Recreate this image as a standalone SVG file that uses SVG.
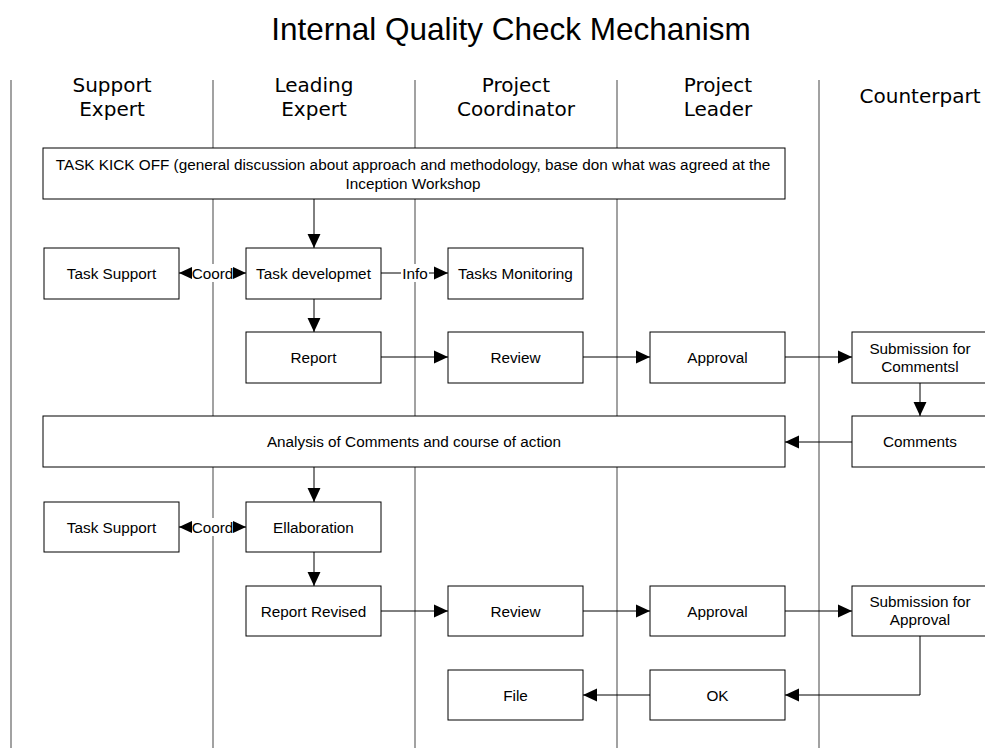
<svg xmlns="http://www.w3.org/2000/svg" width="985" height="748" viewBox="0 0 985 748">
<style>
.lane{stroke:#707070;stroke-width:1.3;fill:none}
.box rect{fill:#fff;stroke:#000;stroke-width:1}
.t{font-family:"Liberation Sans",Arial,sans-serif;font-size:15.3px;fill:#000;text-anchor:middle}
.h{font-family:"DejaVu Sans",sans-serif;font-size:20px;fill:#000;text-anchor:middle}
.c{stroke:#000;stroke-width:1;fill:none}
.bg{fill:#fff}
</style>
<defs>
<marker id="a" markerUnits="userSpaceOnUse" markerWidth="14" markerHeight="14" viewBox="0 0 13 12" refX="13" refY="6" orient="auto">
<path d="M0,0 L13,6 L0,12 Z" fill="#000"/>
</marker>
<marker id="as" markerUnits="userSpaceOnUse" markerWidth="14" markerHeight="14" viewBox="0 0 13 12" refX="0" refY="6" orient="auto">
<path d="M13,0 L0,6 L13,12 Z" fill="#000"/>
</marker>
</defs>
<rect width="985" height="748" fill="#fff"/>
<text x="511" y="40" font-family="Liberation Sans,Arial,sans-serif" font-size="31.5" text-anchor="middle">Internal Quality Check Mechanism</text>
<g id="lanes">
<line class="lane" x1="11" y1="80" x2="11" y2="748"/>
<line class="lane" x1="213" y1="80" x2="213" y2="748"/>
<line class="lane" x1="415" y1="80" x2="415" y2="748"/>
<line class="lane" x1="617" y1="80" x2="617" y2="748"/>
<line class="lane" x1="819" y1="80" x2="819" y2="748"/>
<text class="h" x="112" y="92">Support</text><text class="h" x="112" y="116">Expert</text>
<text class="h" x="314" y="92">Leading</text><text class="h" x="314" y="116">Expert</text>
<text class="h" x="516" y="92">Project</text><text class="h" x="516" y="116">Coordinator</text>
<text class="h" x="718" y="92">Project</text><text class="h" x="718" y="116">Leader</text>
<text class="h" x="920" y="103">Counterpart</text>
</g>
<g id="connectors">
<line class="c" x1="314" y1="199" x2="314" y2="248" marker-end="url(#a)"/>
<line class="c" x1="314" y1="299" x2="314" y2="332" marker-end="url(#a)"/>
<line class="c" x1="179" y1="273" x2="246" y2="273" marker-start="url(#as)" marker-end="url(#a)"/>
<rect class="bg" x="192" y="264" width="41" height="18"/>
<text class="t" x="212.5" y="279">Coord</text>
<line class="c" x1="381" y1="273" x2="448" y2="273" marker-end="url(#a)"/>
<rect class="bg" x="401" y="264" width="28" height="18"/>
<text class="t" x="415" y="279">Info</text>
<line class="c" x1="381" y1="357" x2="448" y2="357" marker-end="url(#a)"/>
<line class="c" x1="583" y1="357" x2="650" y2="357" marker-end="url(#a)"/>
<line class="c" x1="785" y1="357" x2="852" y2="357" marker-end="url(#a)"/>
<line class="c" x1="920" y1="383" x2="920" y2="416" marker-end="url(#a)"/>
<line class="c" x1="852" y1="442" x2="785" y2="442" marker-end="url(#a)"/>
<line class="c" x1="314" y1="467" x2="314" y2="502" marker-end="url(#a)"/>
<line class="c" x1="179" y1="527" x2="246" y2="527" marker-start="url(#as)" marker-end="url(#a)"/>
<rect class="bg" x="192" y="518" width="41" height="18"/>
<text class="t" x="212.5" y="533">Coord</text>
<line class="c" x1="314" y1="552" x2="314" y2="586" marker-end="url(#a)"/>
<line class="c" x1="381" y1="611" x2="448" y2="611" marker-end="url(#a)"/>
<line class="c" x1="583" y1="611" x2="650" y2="611" marker-end="url(#a)"/>
<line class="c" x1="785" y1="611" x2="852" y2="611" marker-end="url(#a)"/>
<polyline class="c" points="920,636 920,695 785,695" marker-end="url(#a)"/>
<line class="c" x1="650" y1="695" x2="583" y2="695" marker-end="url(#a)"/>
</g>
<g id="kickoff" class="box"><rect x="43" y="148" width="742" height="51"/>
<text class="t" x="413" y="170">TASK KICK OFF (general discussion about approach and methodology, base don what was agreed at the</text>
<text class="t" x="413" y="189">Inception Workshop</text></g>
<g id="tasksupport1" class="box"><rect x="44" y="248" width="135" height="51"/><text class="t" x="111.5" y="279">Task Support</text></g>
<g id="taskdev" class="box"><rect x="246" y="248" width="135" height="51"/><text class="t" x="313.5" y="279">Task developmet</text></g>
<g id="monitoring" class="box"><rect x="448" y="248" width="135" height="51"/><text class="t" x="515.5" y="279">Tasks Monitoring</text></g>
<g id="report" class="box"><rect x="246" y="332" width="135" height="51"/><text class="t" x="313.5" y="363">Report</text></g>
<g id="review1" class="box"><rect x="448" y="332" width="135" height="51"/><text class="t" x="515.5" y="363">Review</text></g>
<g id="approval1" class="box"><rect x="650" y="332" width="135" height="51"/><text class="t" x="717.5" y="363">Approval</text></g>
<g id="submission1" class="box"><rect x="852" y="332" width="135" height="51"/><text class="t" x="920" y="354">Submission for</text><text class="t" x="920" y="372">Commentsl</text></g>
<g id="analysis" class="box"><rect x="43" y="416" width="742" height="51"/><text class="t" x="414" y="447">Analysis of Comments and course of action</text></g>
<g id="comments" class="box"><rect x="852" y="416" width="135" height="51"/><text class="t" x="920" y="447">Comments</text></g>
<g id="tasksupport2" class="box"><rect x="44" y="502" width="135" height="50"/><text class="t" x="111.5" y="533">Task Support</text></g>
<g id="ellaboration" class="box"><rect x="246" y="502" width="135" height="50"/><text class="t" x="313.5" y="533">Ellaboration</text></g>
<g id="reportrevised" class="box"><rect x="246" y="586" width="135" height="50"/><text class="t" x="313.5" y="617">Report Revised</text></g>
<g id="review2" class="box"><rect x="448" y="586" width="135" height="50"/><text class="t" x="515.5" y="617">Review</text></g>
<g id="approval2" class="box"><rect x="650" y="586" width="135" height="50"/><text class="t" x="717.5" y="617">Approval</text></g>
<g id="submission2" class="box"><rect x="852" y="586" width="135" height="50"/><text class="t" x="920" y="607">Submission for</text><text class="t" x="920" y="625">Approval</text></g>
<g id="file" class="box"><rect x="448" y="670" width="135" height="50"/><text class="t" x="515.5" y="701">File</text></g>
<g id="ok" class="box"><rect x="650" y="670" width="135" height="50"/><text class="t" x="717.5" y="701">OK</text></g>
</svg>
